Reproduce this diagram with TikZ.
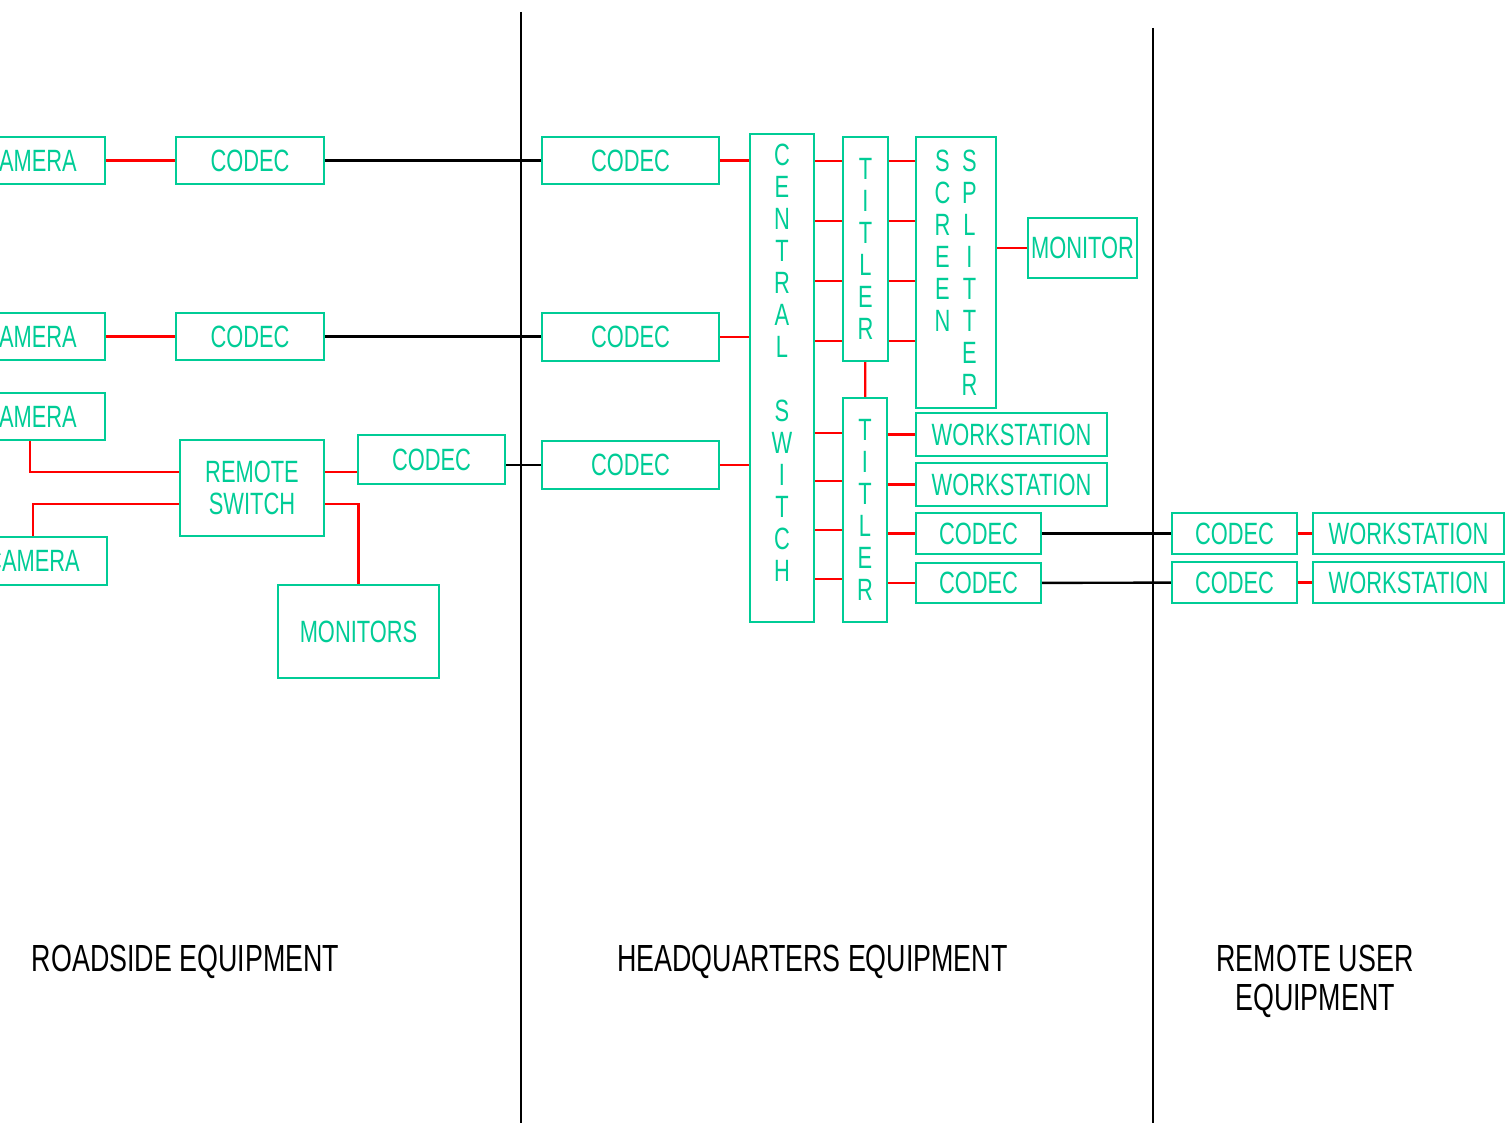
\documentclass[tikz,border=0pt]{standalone}
\usepackage{fontspec}
\setmainfont{Liberation Sans}[FakeStretch=0.71]
\definecolor{boxgreen}{RGB}{0,204,150}
\definecolor{linkred}{RGB}{255,0,0}
\tikzset{
  elbowvh/.style={to path={|- (\tikztotarget)}},
  elbowhv/.style={to path={-| (\tikztotarget)}}
}

\begin{document}
\begin{tikzpicture}[x=0.5pt,y=-0.5pt]
  \useasboundingbox (0,0) rectangle (1505,1123);
  % area dividers
  \coordinate (hqtop) at (521,12);
  \coordinate (hqbot) at (521,1123);
  \coordinate (rutop) at (1153,28);
  \coordinate (rubot) at (1153,1123);
  \draw[line width=1.4pt] (hqtop) -- (hqbot);
  \draw[line width=1.4pt] (rutop) -- (rubot);
  \begin{scope}[every node/.style={draw=boxgreen,line width=1.2pt,text=boxgreen,inner sep=0pt,
      font=\fontsize{15.4}{16}\selectfont,align=center}]
  % roadside
  \node[minimum width=75pt,minimum height=23.5pt] (cam1) at (30,160.5) {CAMERA};
  \node[minimum width=75pt,minimum height=23.5pt] (cam2) at (30,336.5) {CAMERA};
  \node[minimum width=75pt,minimum height=23.5pt] (cam3) at (30,416.5) {CAMERA};
  \node[minimum width=74pt,minimum height=24pt] (cam4) at (33,561) {CAMERA};
  \node[minimum width=74pt,minimum height=23.5pt] (codec1) at (250,160.5) {CODEC};
  \node[minimum width=74pt,minimum height=23.5pt] (codec2) at (250,336.5) {CODEC};
  \node[minimum width=72pt,minimum height=48pt] (rswitch) at (252,488) {REMOTE\\SWITCH};
  \node[minimum width=73.5pt,minimum height=24.5pt] (codec3) at (431.5,459.5) {CODEC};
  \node[minimum width=80.5pt,minimum height=46.5pt] (monitors) at (358.5,631.5) {MONITORS};
  % headquarters
  \node[minimum width=88.5pt,minimum height=23.5pt] (hqc1) at (630.5,160.5) {CODEC};
  \node[minimum width=88.5pt,minimum height=24pt] (hqc2) at (630.5,337) {CODEC};
  \node[minimum width=88.5pt,minimum height=24pt] (hqc3) at (630.5,465) {CODEC};
  \node[minimum width=32pt,minimum height=244pt] (cswitch) at (782,378) {};
  \node[draw=none] (cswname) at (782,363) {C\\E\\N\\T\\R\\A\\L\\[16pt]S\\W\\I\\T\\C\\H};
  \node[minimum width=22.5pt,minimum height=112pt] (tit1) at (865.5,249) {T\\I\\T\\L\\E\\R};
  \node[minimum width=22pt,minimum height=112pt] (tit2) at (865,510) {T\\I\\T\\L\\E\\R};
  \node[minimum width=40pt,minimum height=135.5pt] (splitter) at (956,272.5)
    {\raisebox{-2.5pt}[\height][\depth]{\begin{tabular}{@{}c@{\hspace{5.6pt}}c@{}}
      S&S\\C&P\\R&L\\E&I\\E&T\\N&T\\&E\\&R
     \end{tabular}}};
  \node[minimum width=54.5pt,minimum height=30pt] (monitor) at (1082.5,248) {MONITOR};
  \node[minimum width=95.5pt,minimum height=21.5pt] (ws1) at (1011.5,434.5) {WORKSTATION};
  \node[minimum width=95.5pt,minimum height=21.5pt] (ws2) at (1011.5,484.5) {WORKSTATION};
  \node[minimum width=62.5pt,minimum height=20.5pt] (hqc4) at (978.5,533.5) {CODEC};
  \node[minimum width=62.5pt,minimum height=20pt] (hqc5) at (978.5,583) {CODEC};
  % remote user
  \node[minimum width=62.5pt,minimum height=20.5pt] (rc1) at (1234.5,533.5) {CODEC};
  \node[minimum width=62.5pt,minimum height=20.5pt] (rc2) at (1234.5,582.5) {CODEC};
  \node[minimum width=95.5pt,minimum height=20.5pt] (rws1) at (1408.5,533.5) {WORKSTATION};
  \node[minimum width=95.5pt,minimum height=20.5pt] (rws2) at (1408.5,582.5) {WORKSTATION};
  \end{scope}
  % red video links
  \begin{scope}[every edge/.style={draw=linkred,line width=1.1pt}]
  \path (cam1) edge (codec1);
  \path (cam2) edge (codec2);
  \path (cam3.south) edge[elbowvh] ([yshift=8pt]rswitch.west);
  \path (cam4.north) edge[elbowvh] ([yshift=-8pt]rswitch.west);
  \path ([yshift=8pt]rswitch.east) edge ([yshift=8pt]rswitch.east -| codec3.west);
  \path ([yshift=-8pt]rswitch.east) edge[elbowhv] (monitors.north);
  \path (hqc1.east) edge (hqc1.east -| cswitch.west);
  \path (hqc2.east) edge (hqc2.east -| cswitch.west);
  \path (hqc3.east) edge (hqc3.east -| cswitch.west);
  \foreach \y in {161,221,281,341} {
    \path (cswitch.east |- 0,\y) edge (tit1.west |- 0,\y);
    \path (tit1.east |- 0,\y) edge (splitter.west |- 0,\y);
  }
  \foreach \y in {433,481,530,579}
    \path (cswitch.east |- 0,\y) edge (tit2.west |- 0,\y);
  \path (tit1) edge (tit2);
  \path (monitor.west -| splitter.east) edge (monitor.west);
  \path (ws1.west -| tit2.east) edge (ws1.west);
  \path (ws2.west -| tit2.east) edge (ws2.west);
  \path (hqc4.west -| tit2.east) edge (hqc4.west);
  \path (hqc5.west -| tit2.east) edge (hqc5.west);
  \path (rc1) edge (rws1);
  \path (rc2) edge (rws2);
  \end{scope}
  % black codec trunks
  \begin{scope}[every edge/.style={draw=black,line width=1.2pt}]
  \path (codec1) edge (hqc1);
  \path (codec2.east) edge (codec2.east -| hqc2.west);
  \path (hqc3.west -| codec3.east) edge (hqc3.west);
  \path (hqc4) edge (rc1);
  \path (hqc5) edge (rc2);
  \end{scope}
  % area names
  \begin{scope}[every node/.style={inner sep=0pt,anchor=north,align=center,
      font=\fontsize{18.9}{19.5}\selectfont}]
  \node (roadside) at (185.5,944.5) {ROADSIDE EQUIPMENT};
  \node (headquarters) at (812.5,944.5) {HEADQUARTERS EQUIPMENT};
  \node (remoteuser) at (1315,944.5) {REMOTE USER\\EQUIPMENT};
  \end{scope}
\end{tikzpicture}
\end{document}
